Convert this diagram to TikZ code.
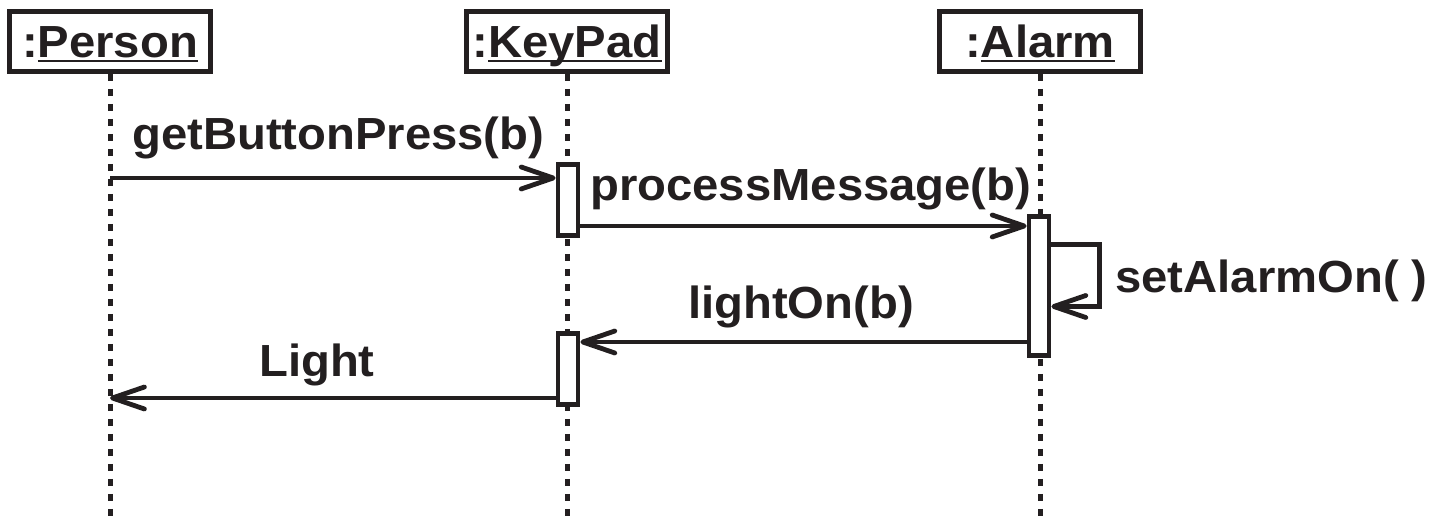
\documentclass[tikz,border=0pt]{standalone}
\usepackage{fontspec}
\setmainfont{Liberation Sans}[FakeStretch=1.05]
\usetikzlibrary{arrows.meta}
\definecolor{ink}{RGB}{35,31,32}
\newcommand\bigfont{\fontsize{45}{52}\selectfont\bfseries}
\newcommand\ulname[1]{\setbox0\hbox{#1}\rlap{\rule[-5pt]{\wd0}{2.8pt}}\box0}
\tikzset{
  obj/.style={draw=ink, text=ink, line width=4.8pt, minimum width=201pt, minimum height=60pt,
    inner sep=0pt, text height=38pt, text depth=6pt, font=\bigfont},
  act/.style={draw=ink, line width=4.8pt, fill=white, minimum width=20pt, inner sep=0pt},
  life/.style={draw=ink, line width=5pt, dash pattern=on 7.5pt off 7.5pt},
  msg/.style={draw=ink, line width=4.8pt, -{Straight Barb[length=32pt,width=22pt,round]}},
  lbl/.style={anchor=base west, inner sep=0pt, text=ink, font=\bigfont},
}
\begin{document}
\begin{tikzpicture}[x=1pt,y=-1pt]
\useasboundingbox (0,0) rectangle (1451,518);
\coordinate (bot) at (0,518);
% objects
\node[obj] (person) at (110,41.5) {:\ulname{Person}};
\node[obj] (keypad) at (567,41.5) {:\ulname{KeyPad}};
\node[obj] (alarm) at (1040,41.5) {:\ulname{Alarm}};
% lifelines
\draw[life] (person.south) -- (person.south |- bot);
\draw[life] (keypad.south) -- (keypad.south |- bot);
\draw[life] (alarm.south) -- (alarm.south |- bot);
% activations
\node[act, minimum height=71pt] (k1) at (568,200) {};
\node[act, minimum height=71pt] (k2) at (568,369) {};
\node[act, minimum height=139pt] (a1) at (1039,286) {};
% message points
\coordinate (m1) at (110,178);
\coordinate (m2) at (0,226);
\coordinate (m3a) at (0,244.5);
\coordinate (m3b) at (0,306.5);
\coordinate (m4) at (0,342);
\coordinate (m5) at (0,398);
% messages
\draw[msg] (m1) -- (m1 -| k1.west);
\draw[msg] (k1.east |- m2) -- (a1.west |- m2);
\draw[msg] (a1.east |- m3a) -- ++(48,0) |- (a1.east |- m3b);
\draw[msg] (a1.west |- m4) -- (k2.east |- m4);
\draw[msg] (k2.west |- m5) -- (person.south |- m5);
% labels
\node[lbl] (l1) at (132,150) {getButtonPress(b)};
\node[lbl] (l2) at (590,201) {processMessage(b)};
\node[lbl] (l3) at (1115,293) {setAlarmOn( )};
\node[lbl] (l4) at (688,319) {lightOn(b)};
\node[lbl] (l5) at (259,377) {Light};
\end{tikzpicture}
\end{document}
